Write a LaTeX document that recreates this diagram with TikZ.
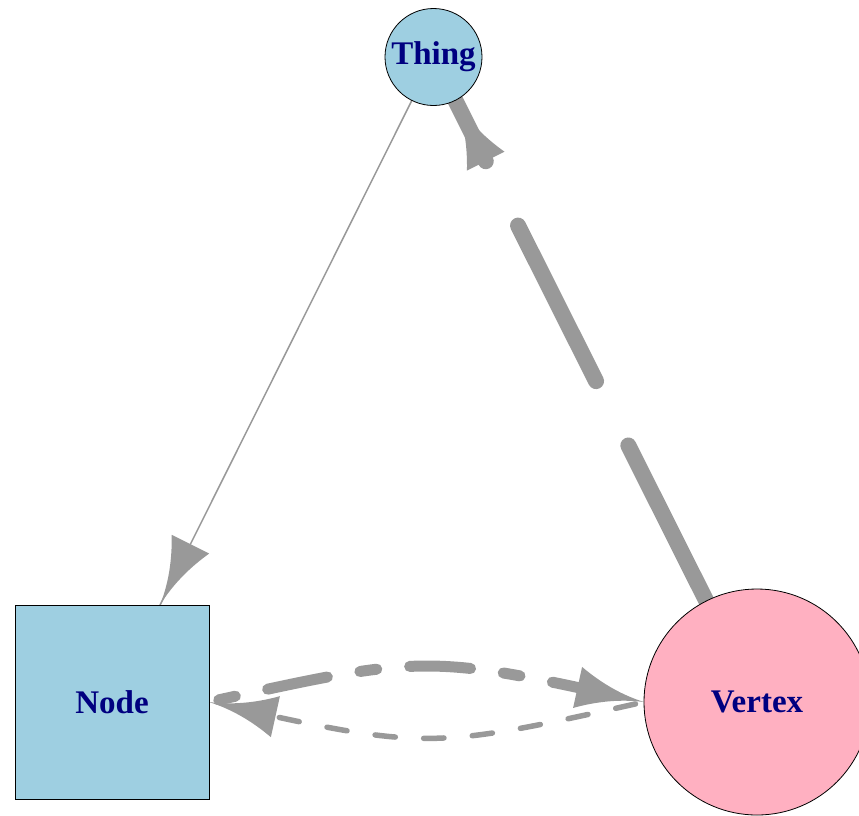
\documentclass[tikz,border=0pt]{standalone}
\usepackage{fontspec}
\setmainfont{Liberation Serif}
\usetikzlibrary{bending}
\definecolor{vblue}{HTML}{9ECFE1}
\definecolor{vpink}{HTML}{FFB0C1}
\definecolor{edgegray}{HTML}{999999}
\definecolor{labelblue}{HTML}{000080}
\pgfdeclarelayer{bg}
\pgfsetlayers{bg,main}
\pgfdeclarearrow{
  name = IG,
  setup code = {
    \pgfarrowssettipend{0pt}
    \pgfarrowssetlineend{0pt}
    \pgfarrowssetbackend{-68pt}
    \pgfarrowshullpoint{0pt}{0pt}
    \pgfarrowshullpoint{-68pt}{21pt}
    \pgfarrowshullpoint{-68pt}{-21pt}
  },
  drawing code = {
    \pgfpathmoveto{\pgfpointorigin}
    \pgfpathquadraticcurveto{\pgfpoint{-34pt}{3pt}}{\pgfpoint{-68pt}{21pt}}
    \pgfpathlineto{\pgfpoint{-68pt}{-21pt}}
    \pgfpathquadraticcurveto{\pgfpoint{-34pt}{-3pt}}{\pgfpointorigin}
    \pgfpathclose
    \pgfusepathqfill
  }
}
\tikzset{
  vert/.style={draw=black, line width=0.8pt, inner sep=0pt, outer sep=0pt,
    text=labelblue, font=\bfseries\fontsize{33pt}{36pt}\selectfont},
  circv/.style={vert, circle},
  sqv/.style={vert, rectangle},
  edge/.style={color=edgegray, line cap=round, -{IG[flex]}}
}
\begin{document}
\begin{tikzpicture}[x=1pt,y=-1pt]
\useasboundingbox (0,0) rectangle (859,815);
\clip (0,0) rectangle (859,815);
\node[circv, fill=vblue, minimum size=97pt] (thing) at (433.5,57) {Thing};
\node[sqv, fill=vblue, minimum size=194pt] (node) at (112,702) {Node};
\node[circv, fill=vpink, minimum size=226pt] (vertex) at (757,702) {Vertex};
\begin{pgfonlayer}{bg}
\draw[edge, line width=1.5pt] (thing) -- (node);
\draw[edge, line width=16pt, dash pattern=on 174pt off 72pt] (vertex) -- (thing);
\draw[edge, line width=11pt, dash pattern=on 17pt off 33pt on 61pt off 33pt, dash phase=134pt]
  (node.east) .. controls (427,654) .. (vertex.west);
\draw[edge, line width=5.5pt, dash pattern=on 20.3pt off 28.4pt, dash phase=40pt]
  (vertex.west) .. controls (427,750.5) .. (node.east);
\end{pgfonlayer}
\end{tikzpicture}
\end{document}
